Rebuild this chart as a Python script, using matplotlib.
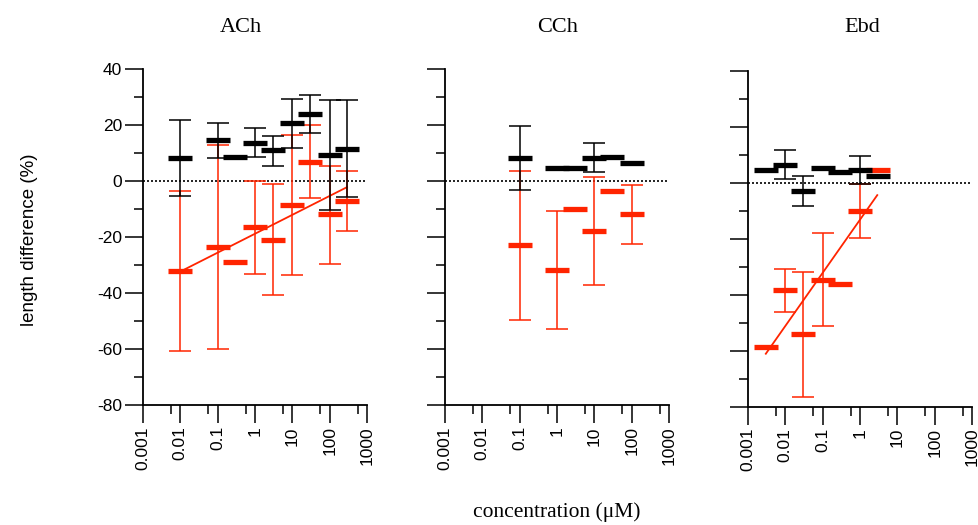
import numpy as np
import matplotlib
matplotlib.use("Agg")
import matplotlib.pyplot as plt

plt.rcParams['font.family'] = ['Liberation Sans', 'DejaVu Sans']
plt.rcParams['axes.unicode_minus'] = False

RED = '#ff2400'

# ACh
ach_x = [0.01, 0.1, 0.3, 1, 3, 10, 30, 100, 300]
ach_black = [8.4, 14.8, 8.6, 13.8, 11.1, 20.7, 24.0, 9.4, 11.6]
ach_black_hi = [21.8, 20.9, np.nan, 19.0, 16.2, 29.4, 30.7, 28.9, 29.1]
ach_black_lo = [-5.1, 8.4, np.nan, 8.6, 5.6, 11.9, 17.2, -10.4, -5.5]
ach_red = [-32.0, -23.5, -28.8, -16.3, -20.8, -8.3, 7.0, -11.8, -7.0]
ach_red_hi = [-3.5, 12.8, np.nan, 0.0, -1.0, 16.5, 20.1, 5.6, 3.8]
ach_red_lo = [-60.5, -59.9, np.nan, -33.0, -40.5, -33.4, -5.9, -29.5, -17.8]
ach_fit_x = [0.012, 290]
ach_fit_y = [-31.7, -2.1]

# CCh
cch_x = [0.1, 1, 3, 10, 30, 100]
cch_black = [8.4, 4.9, 4.6, 8.4, 8.7, 6.4]
cch_black_hi = [19.9, np.nan, np.nan, 13.6, np.nan, np.nan]
cch_black_lo = [-3.2, np.nan, np.nan, 3.3, np.nan, np.nan]
cch_red = [-22.8, -31.6, -9.8, -17.8, -3.3, -11.7]
cch_red_hi = [3.8, -10.5, np.nan, 1.6, np.nan, -1.3]
cch_red_lo = [-49.4, -52.7, np.nan, -37.0, np.nan, -22.3]

# Ebd
ebd_x = [0.003, 0.01, 0.03, 0.1, 0.3, 1, 3]
ebd_black = [4.4, 6.4, -2.8, 5.4, 3.9, 4.6, 2.6]
ebd_black_hi = [np.nan, 11.6, 2.6, np.nan, np.nan, 9.6, np.nan]
ebd_black_lo = [np.nan, 1.5, -8.4, np.nan, np.nan, -0.4, np.nan]
ebd_red = [-58.5, -38.3, -54.1, -34.6, -36.2, -10.0, 4.7]
ebd_red_hi = [np.nan, -30.6, -31.7, -17.9, np.nan, -0.6, np.nan]
ebd_red_lo = [np.nan, -46.1, -76.5, -51.2, np.nan, -19.6, np.nan]
ebd_fit_x = [0.003, 2.9]
ebd_fit_y = [-61.0, -4.4]

titles = ['ACh', 'CCh', 'Ebd']
xticks = [0.001, 0.01, 0.1, 1, 10, 100, 1000]
xticklabels = ['0.001', '0.01', '0.1', '1', '10', '100', '1000']
yticks = [-80, -60, -40, -20, 0, 20, 40]

W, H = 979, 525
fig = plt.figure(figsize=(W / 100, H / 100), dpi=100)


def make_axes(x0, x1, ytop, ybot):
    return fig.add_axes([x0 / W, 1 - ybot / H, (x1 - x0) / W, (ybot - ytop) / H])


def series(ax, x, m, hi, lo, color):
    m = np.array(m)
    hi = np.array(hi)
    lo = np.array(lo)
    ax.errorbar(x, m, yerr=[m - lo, hi - m], fmt='none', ecolor=color,
                elinewidth=1.1, capsize=8, capthick=1.1, zorder=3)
    ax.plot(x, m, ls='none', marker='_', ms=17, mew=3.8, color=color, zorder=4)


def style(ax, show_y):
    ax.set_xscale('log')
    ax.set_xlim(0.001, 1000)
    ax.set_ylim(-80, 40)
    ax.set_xticks(xticks)
    ax.set_xticklabels(xticklabels, rotation=90, fontsize=12.5)
    ax.set_xticks([10 ** (k - 0.25) for k in range(-2, 4)], minor=True)
    ax.set_yticks(yticks)
    ax.set_yticks([-70, -50, -30, -10, 10, 30], minor=True)
    if show_y:
        ax.set_yticklabels([str(t) for t in yticks], fontsize=12.5)
    else:
        ax.set_yticklabels([])
    ax.tick_params(which='major', length=13, width=1.1, direction='out', pad=2)
    ax.tick_params(which='minor', length=6.5, width=1.1, direction='out')
    ax.xaxis.set_minor_formatter(matplotlib.ticker.NullFormatter())
    for s in ['top', 'right']:
        ax.spines[s].set_visible(False)
    for s in ['left', 'bottom']:
        ax.spines[s].set_linewidth(1.3)
    ax.axhline(0, ls=(0, (1.2, 1.2)), color='black', lw=1.2, zorder=2)


ax1 = make_axes(143, 367, 69.3, 405.3)
ax2 = make_axes(445, 669, 69.3, 405.3)
ax3 = make_axes(748, 972, 70.7, 407)

series(ax1, ach_x, ach_red, ach_red_hi, ach_red_lo, RED)
ax1.plot(ach_fit_x, ach_fit_y, color=RED, lw=1.3, zorder=3)
series(ax1, ach_x, ach_black, ach_black_hi, ach_black_lo, 'black')

series(ax2, cch_x, cch_red, cch_red_hi, cch_red_lo, RED)
series(ax2, cch_x, cch_black, cch_black_hi, cch_black_lo, 'black')

series(ax3, ebd_x, ebd_red, ebd_red_hi, ebd_red_lo, RED)
ax3.plot(ebd_fit_x, ebd_fit_y, color=RED, lw=1.3, zorder=3)
series(ax3, ebd_x, ebd_black, ebd_black_hi, ebd_black_lo, 'black')

for ax, show in zip([ax1, ax2, ax3], [True, False, False]):
    style(ax, show)

for t, xc in zip(titles, [241, 558, 862]):
    fig.text(xc / W, 1 - 28 / H, t, ha='center', va='center',
             fontsize=16, family='Liberation Serif')

fig.text(557 / W, 1 - 512 / H, 'concentration (μM)', ha='center', va='center',
         fontsize=15.5, family='Liberation Serif')
fig.text(30 / W, 1 - 240 / H, 'length difference (%)', ha='center', va='center',
         rotation=90, fontsize=13.5)

fig.savefig('out.png', dpi=100)
